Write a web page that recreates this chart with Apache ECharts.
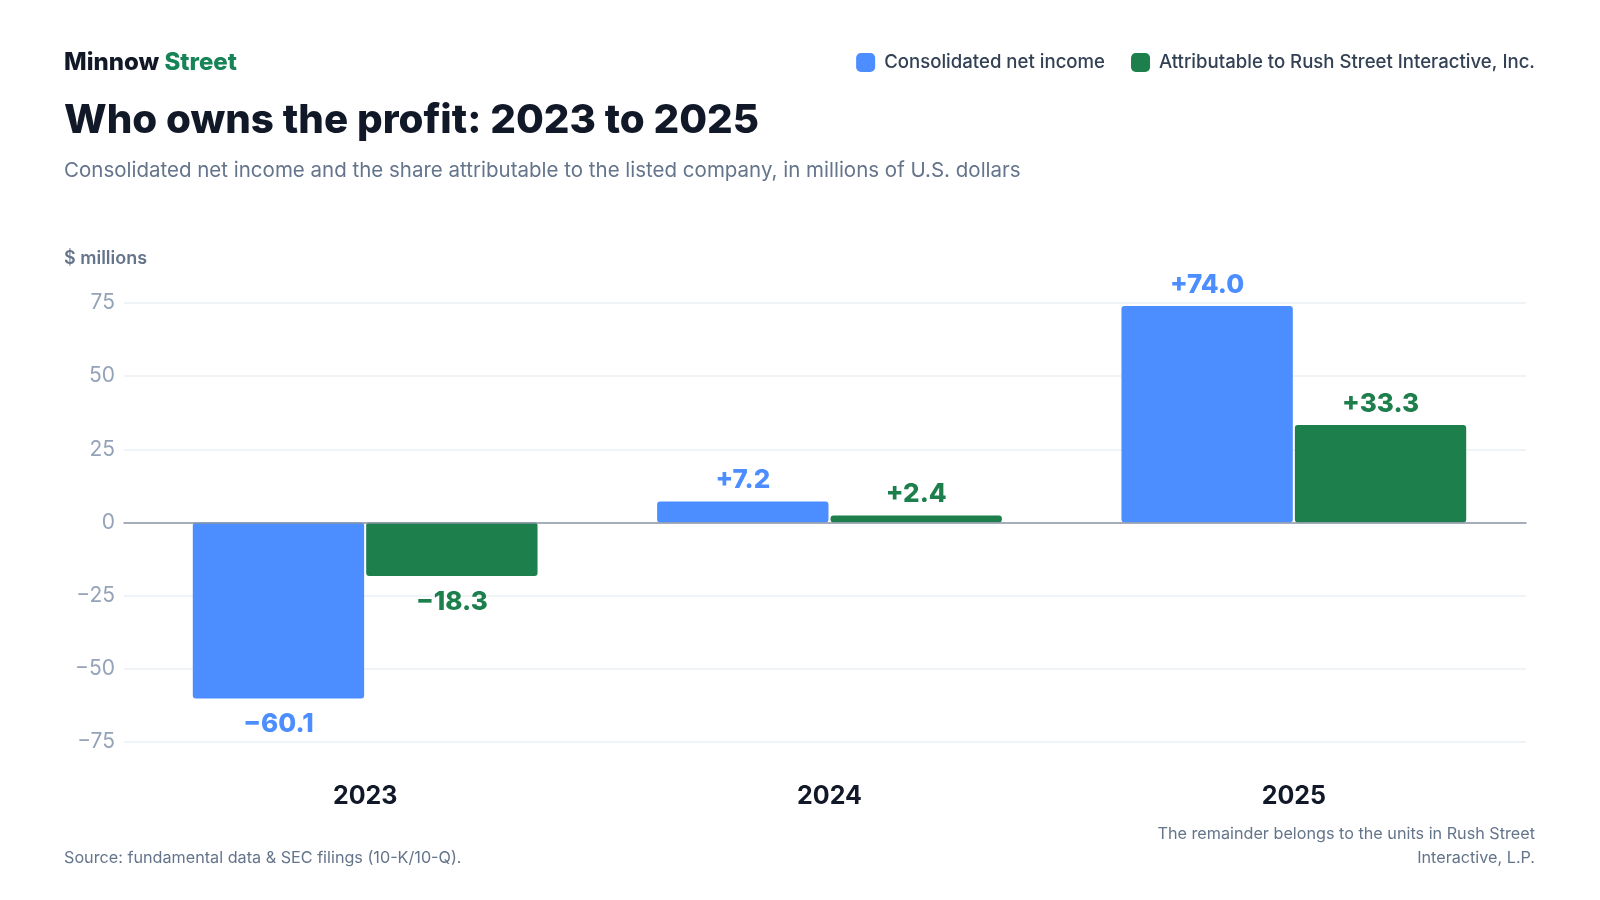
<!DOCTYPE html>
<html>
<head>
<meta charset="utf-8">
<title>Who owns the profit</title>
<script src="https://cdn.jsdelivr.net/npm/echarts@6/dist/echarts.min.js"></script>
<style>
  html, body { margin: 0; padding: 0; background: #ffffff; }
  #main { width: 1600px; height: 900px; }
</style>
</head>
<body>
<div id="main"></div>
<script>
// chart data
const years = ["2023", "2024", "2025"];
const consolidatedNetIncome = [-60.1, 7.2, 74.0];
const attributableToRSI = [-18.3, 2.4, 33.3];
const seriesNames = ["Consolidated net income", "Attributable to Rush Street Interactive, Inc."];
const noteLines = ["The remainder belongs to the units in Rush Street", "Interactive, L.P."];

const FONT = "Inter";
const BLUE = "#4c8dff";
const GREEN = "#1c7f4c";

// signed label with a real minus sign
function signed(v) {
  if (v > 0) return "+" + v.toFixed(1);
  if (v < 0) return "\u2212" + Math.abs(v).toFixed(1);
  return v.toFixed(1);
}

function barSeries(name, values, color) {
  return {
    name: name,
    type: "bar",
    xAxisIndex: 1,
    yAxisIndex: 1,
    // negative labels sit a little further from the bar end
    data: values.map((v) => ({ value: v, label: { distance: v < 0 ? 13 : 8 } })),
    barWidth: "36.9%",
    barGap: "1.2%",
    itemStyle: { color: color, borderRadius: 3 },
    label: {
      show: true,
      position: "outside",
      formatter: (p) => signed(p.value),
      color: color,
      fontFamily: FONT,
      fontSize: 26,
      fontWeight: 800,
    },
  };
}

const grey = { fontFamily: FONT, color: "#64748b" };

const option = {
  backgroundColor: "#ffffff",
  textStyle: { fontFamily: FONT },
  title: [
    {
      text: "{a|Minnow} {b|Street}",
      left: 64,
      top: 51,
      padding: 0,
      textStyle: {
        fontFamily: FONT,
        fontSize: 24,
        fontWeight: 800,
        rich: {
          a: { fontFamily: FONT, fontSize: 24, fontWeight: 800, color: "#111827" },
          b: { fontFamily: FONT, fontSize: 24, fontWeight: 800, color: "#168456" },
        },
      },
    },
    {
      text: "Who owns the profit: 2023 to 2025",
      left: 64,
      top: 101,
      padding: 0,
      textStyle: { fontFamily: FONT, fontSize: 40.3, fontWeight: 800, color: "#111827" },
    },
    {
      text: "Consolidated net income and the share attributable to the listed company, in millions of U.S. dollars",
      left: 64,
      top: 160,
      padding: 0,
      textStyle: Object.assign({ fontSize: 20.5, fontWeight: 400 }, grey),
    },
    {
      text: "$ millions",
      left: 64,
      top: 250,
      padding: 0,
      textStyle: Object.assign({ fontSize: 18, fontWeight: 600 }, grey),
    },
    {
      text: "Source: fundamental data & SEC filings (10-K/10-Q).",
      left: 64,
      top: 850,
      padding: 0,
      textStyle: Object.assign({ fontSize: 16.2, fontWeight: 400 }, grey),
    },
  ],
  // right-aligned note, one text per line
  graphic: noteLines.map((line, i) => ({
    type: "text",
    right: 65,
    top: 826 + i * 24,
    style: { text: line, fontSize: 16.2, fontFamily: FONT, fill: "#64748b" },
  })),
  legend: {
    data: seriesNames,
    right: 65,
    top: 53,
    padding: 0,
    itemWidth: 19,
    itemHeight: 19,
    itemGap: 26,
    icon: "roundRect",
    selectedMode: false,
    textStyle: {
      fontFamily: FONT,
      fontSize: 18.6,
      fontWeight: 500,
      color: "#334155",
      padding: [0, 0, 0, 4],
    },
  },
  grid: [
    // grid 0: gridlines, y labels and zero line
    { left: 124, right: 74, top: 303, bottom: 158 },
    // grid 1: bars and year labels
    { left: 133, right: 74, top: 303, bottom: 158 },
  ],
  xAxis: [
    {
      gridIndex: 0,
      type: "category",
      data: years,
      z: 5,
      axisLine: { show: true, onZero: true, lineStyle: { color: "#8b95a5", width: 1.5 } },
      axisTick: { show: false },
      axisLabel: { show: false },
    },
    {
      gridIndex: 1,
      type: "category",
      data: years,
      axisLine: { show: false, onZero: false },
      axisTick: { show: false },
      axisLabel: {
        margin: 42,
        color: "#111827",
        fontFamily: FONT,
        fontSize: 25,
        fontWeight: 700,
      },
    },
  ],
  yAxis: [
    {
      gridIndex: 0,
      type: "value",
      min: -75,
      max: 75,
      interval: 25,
      axisLine: { show: false },
      axisTick: { show: false },
      splitLine: { lineStyle: { color: "#edf0f4", width: 1.5 } },
      axisLabel: {
        margin: 9,
        color: "#94a3b8",
        fontFamily: FONT,
        fontSize: 21,
        formatter: (v) => (v < 0 ? "\u2212" + Math.abs(v) : String(v)),
      },
    },
    {
      gridIndex: 1,
      type: "value",
      min: -75,
      max: 75,
      interval: 25,
      show: false,
      splitLine: { show: false },
    },
  ],
  series: [
    barSeries(seriesNames[0], consolidatedNetIncome, BLUE),
    barSeries(seriesNames[1], attributableToRSI, GREEN),
  ],
};

const chart = echarts.init(document.getElementById("main"));
chart.setOption(option);
</script>
</body>
</html>
